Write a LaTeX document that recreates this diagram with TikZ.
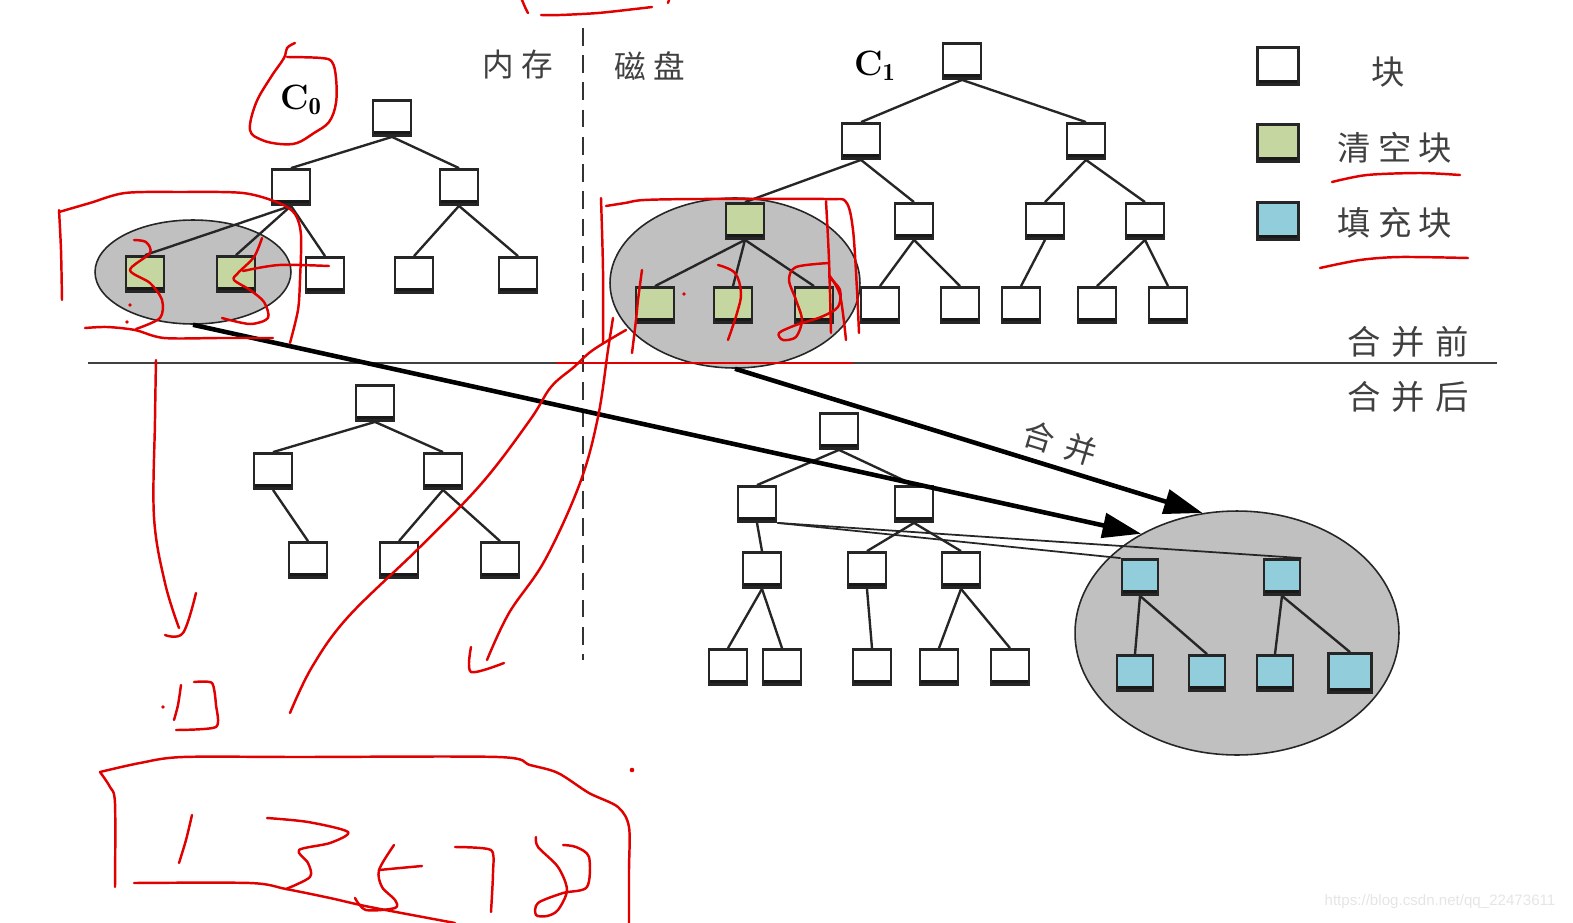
\documentclass[tikz,border=0pt]{standalone}
\usepackage{fontspec}
\newfontfamily\cjk{Noto Sans CJK SC}
\newfontfamily\wmfont{Liberation Sans}
\usetikzlibrary{shapes.geometric,arrows.meta}

\definecolor{clearfill}{HTML}{C6D6A0}
\definecolor{fillblue}{HTML}{92CDDC}
\definecolor{ovalgray}{HTML}{C0C0C0}
\definecolor{ink}{HTML}{E00000}

\tikzset{
  blk/.style={draw=black!85, line width=1.6pt, fill=white, inner sep=0pt,
    minimum width=0.76cm, minimum height=0.70cm,
    path picture={\fill[black!90] (path picture bounding box.south west)
      rectangle ([yshift=2.4pt]path picture bounding box.south east);}},
  clr/.style={blk, fill=clearfill},
  fil/.style={blk, fill=fillblue, minimum width=0.72cm},
  legendbox/.style={blk, minimum width=0.82cm, minimum height=0.74cm, line width=1.8pt},
  oval/.style={ellipse, draw=black!85, line width=0.9pt, fill=ovalgray, inner sep=0pt},
  edge/.style={draw=black!85, line width=1.35pt},
  thinline/.style={draw=black!85, line width=1pt},
  merge/.style={draw=black, line width=2.6pt, -{Triangle[length=22pt,width=14pt]}},
  sep/.style={draw=black!75, line width=1.4pt},
  zone/.style={draw=black!80, line width=1.5pt, dash pattern=on 10pt off 5.5pt},
  lbl/.style={inner sep=0pt, text=black!75, font=\cjk\fontsize{18pt}{20pt}\selectfont},
  biglbl/.style={inner sep=0pt, text=black!75, font=\cjk\fontsize{19pt}{21pt}\selectfont},
  tree/.style={inner sep=0pt, font=\fontsize{20pt}{22pt}\selectfont\bfseries},
  redink/.style={draw=ink, line width=1.4pt, line cap=round, line join=round},
  inkdot/.style={fill=ink}
}

\begin{document}
\begin{tikzpicture}[x=0.02cm, y=-0.02cm]
\useasboundingbox (0,0) rectangle (1573,923);

% ---------- grey groups ----------
\node[oval, minimum width=3.92cm, minimum height=2.08cm] (e0) at (193,272) {};
\node[oval, minimum width=5.0cm, minimum height=3.4cm] (e1) at (735,283) {};
\node[oval, minimum width=6.48cm, minimum height=4.88cm] (e2) at (1237,633) {};

% ---------- memory / disk separators ----------
\coordinate (sepL) at (88,363);
\coordinate (sepR) at (1497,363);
\draw[sep] (sepL) -- (sepR);
\coordinate (zoneT) at (583,28);
\coordinate (zoneB) at (583,660);
\draw[zone] (zoneT) -- (zoneB);

% ---------- C0 before merge ----------
\node[blk] (a0) at (392,118) {};
\node[blk] (a1) at (291,187) {};
\node[blk] (a2) at (459,187) {};
\node[clr] (a3) at (145,274) {};
\node[clr] (a4) at (236,274) {};
\node[blk] (a5) at (325,275) {};
\node[blk] (a6) at (414,275) {};
\node[blk] (a7) at (518,275) {};

% ---------- C1 before merge ----------
\node[blk] (c0) at (962,61) {};
\node[blk] (c1) at (861,141) {};
\node[blk] (c2) at (1086,141) {};
\node[clr] (c3) at (745,221) {};
\node[blk] (c4) at (914,221) {};
\node[blk] (c5) at (1045,221) {};
\node[blk] (c6) at (1145,221) {};
\node[clr] (c7) at (655,305) {};
\node[clr] (c8) at (733,305) {};
\node[clr] (c9) at (814,305) {};
\node[blk] (c10) at (880,305) {};
\node[blk] (c11) at (960,305) {};
\node[blk] (c12) at (1021,305) {};
\node[blk] (c13) at (1097,305) {};
\node[blk] (c14) at (1168,305) {};

% ---------- C0 after merge ----------
\node[blk] (d0) at (375,403) {};
\node[blk] (d1) at (273,471) {};
\node[blk] (d2) at (443,471) {};
\node[blk] (d3) at (308,560) {};
\node[blk] (d4) at (399,560) {};
\node[blk] (d5) at (500,560) {};

% ---------- C1 after merge ----------
\node[blk] (f0) at (839,431) {};
\node[blk] (f1) at (757,504) {};
\node[blk] (f2) at (914,504) {};
\node[blk] (f3) at (762,570) {};
\node[blk] (f4) at (867,570) {};
\node[blk] (f5) at (961,570) {};
\node[blk] (f6) at (728,667) {};
\node[blk] (f7) at (782,667) {};
\node[blk] (f8) at (872,667) {};
\node[blk] (f9) at (939,667) {};
\node[blk] (f10) at (1010,667) {};
\node[fil] (g0) at (1140,577) {};
\node[fil] (g1) at (1282,577) {};
\node[fil] (g2) at (1135,673) {};
\node[fil] (g3) at (1207,673) {};
\node[fil] (g4) at (1275,673) {};
\node[fil, minimum width=0.86cm, minimum height=0.78cm] (g5) at (1350,673) {};

% ---------- tree edges ----------
\foreach \p/\c in {a0/a1,a0/a2,a1/a3,a1/a4,a1/a5,a2/a6,a2/a7,
                   c0/c1,c0/c2,c1/c3,c1/c4,c2/c5,c2/c6,c3/c7,c3/c8,c3/c9,
                   c4/c10,c4/c11,c5/c12,c6/c13,c6/c14,
                   d0/d1,d0/d2,d1/d3,d2/d4,d2/d5,
                   f0/f1,f0/f2,f1/f3,f2/f4,f2/f5,f3/f6,f3/f7,f4/f8,f5/f9,f5/f10,
                   g0/g2,g0/g3,g1/g4,g1/g5}
  \draw[edge] (\p.south) -- (\c.north);

% links from the disk tree into the filled blocks
\draw[thinline] (f1.south east) -- (g0.north west);
\draw[thinline] (f1.south east) -- (g1.north east);

% ---------- merge arrows ----------
\draw[merge] (e0.south) -- (e2.134);
\draw[merge] (e1.south) -- (e2.106);
\node[lbl, rotate=-17] (mlbl) at (1060,443) {合\hspace{7pt}并};

% ---------- labels ----------
\node[lbl] (mem) at (518,65) {内\hspace{4pt}存};
\node[lbl] (disk) at (650,66) {磁\hspace{4pt}盘};
\node[tree] (tc0) at (301,100) {C$_{\mathbf{0}}$};
\node[tree] (tc1) at (875,66) {C$_{\mathbf{1}}$};
\node[biglbl] (before) at (1408,342) {合\hspace{6pt}并\hspace{6pt}前};
\node[biglbl] (after) at (1408,397) {合\hspace{6pt}并\hspace{6pt}后};

% ---------- legend ----------
\node[legendbox] (k0) at (1278,66) {};
\node[legendbox, fill=clearfill] (k1) at (1278,143) {};
\node[legendbox, fill=fillblue] (k2) at (1278,221) {};
\node[biglbl] (t0) at (1388,72) {块};
\node[biglbl] (t1) at (1395,148) {清\hspace{4pt}空\hspace{4pt}块};
\node[biglbl] (t2) at (1395,223) {填\hspace{4pt}充\hspace{4pt}块};

\node[text=black!10, font=\wmfont\fontsize{8.6pt}{10pt}\selectfont, inner sep=0pt] (wm) at (1440,902) {https://blog.csdn.net/qq\_22473611};

% ---------- red pen notes ----------
\begin{scope}[redink]
  % top strokes
  \draw plot[smooth] coordinates {(522,0) (525,7) (528,13)};
  \draw plot[smooth] coordinates {(541,15) (560,15) (598,13) (635,9) (652,7)};
  \draw plot[smooth] coordinates {(669,0) (668,3)};
  % loop round C0
  \draw plot[smooth, tension=0.6] coordinates {(295,43) (287,48) (284,58) (271,77) (256,103) (250,130) (262,140) (280,144) (297,143) (314,133) (329,122) (336,103) (336,78) (332,62) (321,58) (287,57)};
  % frame round the cleared blocks of C0
  \draw plot[smooth, tension=0.5] coordinates {(59,212) (90,203) (125,193) (180,192) (243,193) (279,203) (295,214) (301,235) (300,280) (298,310) (290,343)};
  \draw plot[smooth] coordinates {(59,210) (61,250) (62,300)};
  \draw plot[smooth, tension=0.5] coordinates {(85,328) (107,327) (135,330) (164,338) (220,338) (273,338)};
  \draw plot[smooth, tension=0.5] coordinates {(134,240) (146,242) (150,253) (130,270) (150,283) (162,300) (160,318) (136,329)};
  \draw plot[smooth, tension=0.5] coordinates {(262,238) (254,257) (238,273) (234,280) (250,290) (264,302) (268,318) (250,324) (222,318)};
  \draw plot[smooth] coordinates {(243,271) (279,265) (329,266)};
  % frame round the cleared blocks of C1
  \draw plot[smooth] coordinates {(601,198) (603,270) (603,343)};
  \draw plot[smooth, tension=0.5] coordinates {(606,206) (625,203) (644,200) (700,199) (825,199) (846,202) (853,230) (857,290) (859,333)};
  \draw plot[smooth] coordinates {(826,201) (829,260) (831,333)};
  \draw plot[smooth] coordinates {(642,270) (638,300) (636,320) (632,353)};
  \draw plot[smooth, tension=0.6] coordinates {(718,265) (735,273) (741,293) (737,313) (728,340)};
  \draw plot[smooth, tension=0.5] coordinates {(829,263) (796,267) (789,280) (796,300) (802,320) (796,337) (783,340) (779,333) (796,325) (821,317) (838,307) (840,290) (829,277)};
  \draw plot[smooth] coordinates {(829,275) (840,295) (846,340)};
  \draw (557,363) -- (852,363);
  % long strokes down
  \draw plot[smooth, tension=0.6] coordinates {(613,318) (608,350) (598,417) (580,483) (545,560) (509,613) (487,660)};
  \draw plot[smooth, tension=0.5] coordinates {(471,647) (471,672) (504,663)};
  \draw plot[smooth, tension=0.6] coordinates {(626,330) (593,350) (574,367) (551,387) (530,420) (482,483) (420,547) (348,617) (312,667) (290,713)};
  \draw plot[smooth, tension=0.6] coordinates {(156,360) (155,420) (154,517) (165,583) (179,628)};
  \draw plot[smooth, tension=0.6] coordinates {(165,635) (183,633) (196,593)};
  \draw plot[smooth] coordinates {(181,685) (178,705) (174,720)};
  \draw plot[smooth, tension=0.4] coordinates {(194,682) (212,683) (216,705) (216,727) (176,730)};
  % box of figures at the bottom
  \draw plot[smooth, tension=0.5] coordinates {(100,772) (140,763) (183,757) (300,757) (498,757) (530,765) (558,773) (589,793) (618,807) (629,827) (629,870) (629,923)};
  \draw plot[smooth, tension=0.5] coordinates {(100,772) (110,787) (115,803) (115,887)};
  \draw plot[smooth, tension=0.5] coordinates {(134,883) (250,883) (286,889) (330,898) (370,907) (455,923)};
  \draw plot[smooth] coordinates {(192,815) (186,840) (179,863)};
  \draw plot[smooth, tension=0.5] coordinates {(267,818) (308,822) (348,832) (330,843) (299,850) (308,863) (310,877) (286,889)};
  \draw plot[smooth, tension=0.5] coordinates {(394,845) (379,870) (382,887) (395,900) (395,908) (366,910) (355,898)};
  \draw plot[smooth] coordinates {(379,870) (400,868) (422,866)};
  \draw plot[smooth, tension=0.4] coordinates {(455,847) (491,850) (493,873) (491,912)};
  \draw plot[smooth, tension=0.5] coordinates {(536,837) (538,847) (558,867) (567,890) (558,910) (547,916) (536,915) (538,903) (563,893) (587,887) (589,857) (576,847) (563,845)};
  % underlines in the legend
  \draw plot[smooth] coordinates {(1332,182) (1367,175) (1420,173) (1460,175)};
  \draw plot[smooth] coordinates {(1320,268) (1360,260) (1400,257) (1468,258)};
\end{scope}
\fill[inkdot] (130,305) circle (1.1pt);
\fill[inkdot] (127,322) circle (1.1pt);
\fill[inkdot] (684,294) circle (1.1pt);
\fill[inkdot] (163,707) circle (1.1pt);
\fill[inkdot] (632,770) circle (1.3pt);
\end{tikzpicture}
\end{document}
